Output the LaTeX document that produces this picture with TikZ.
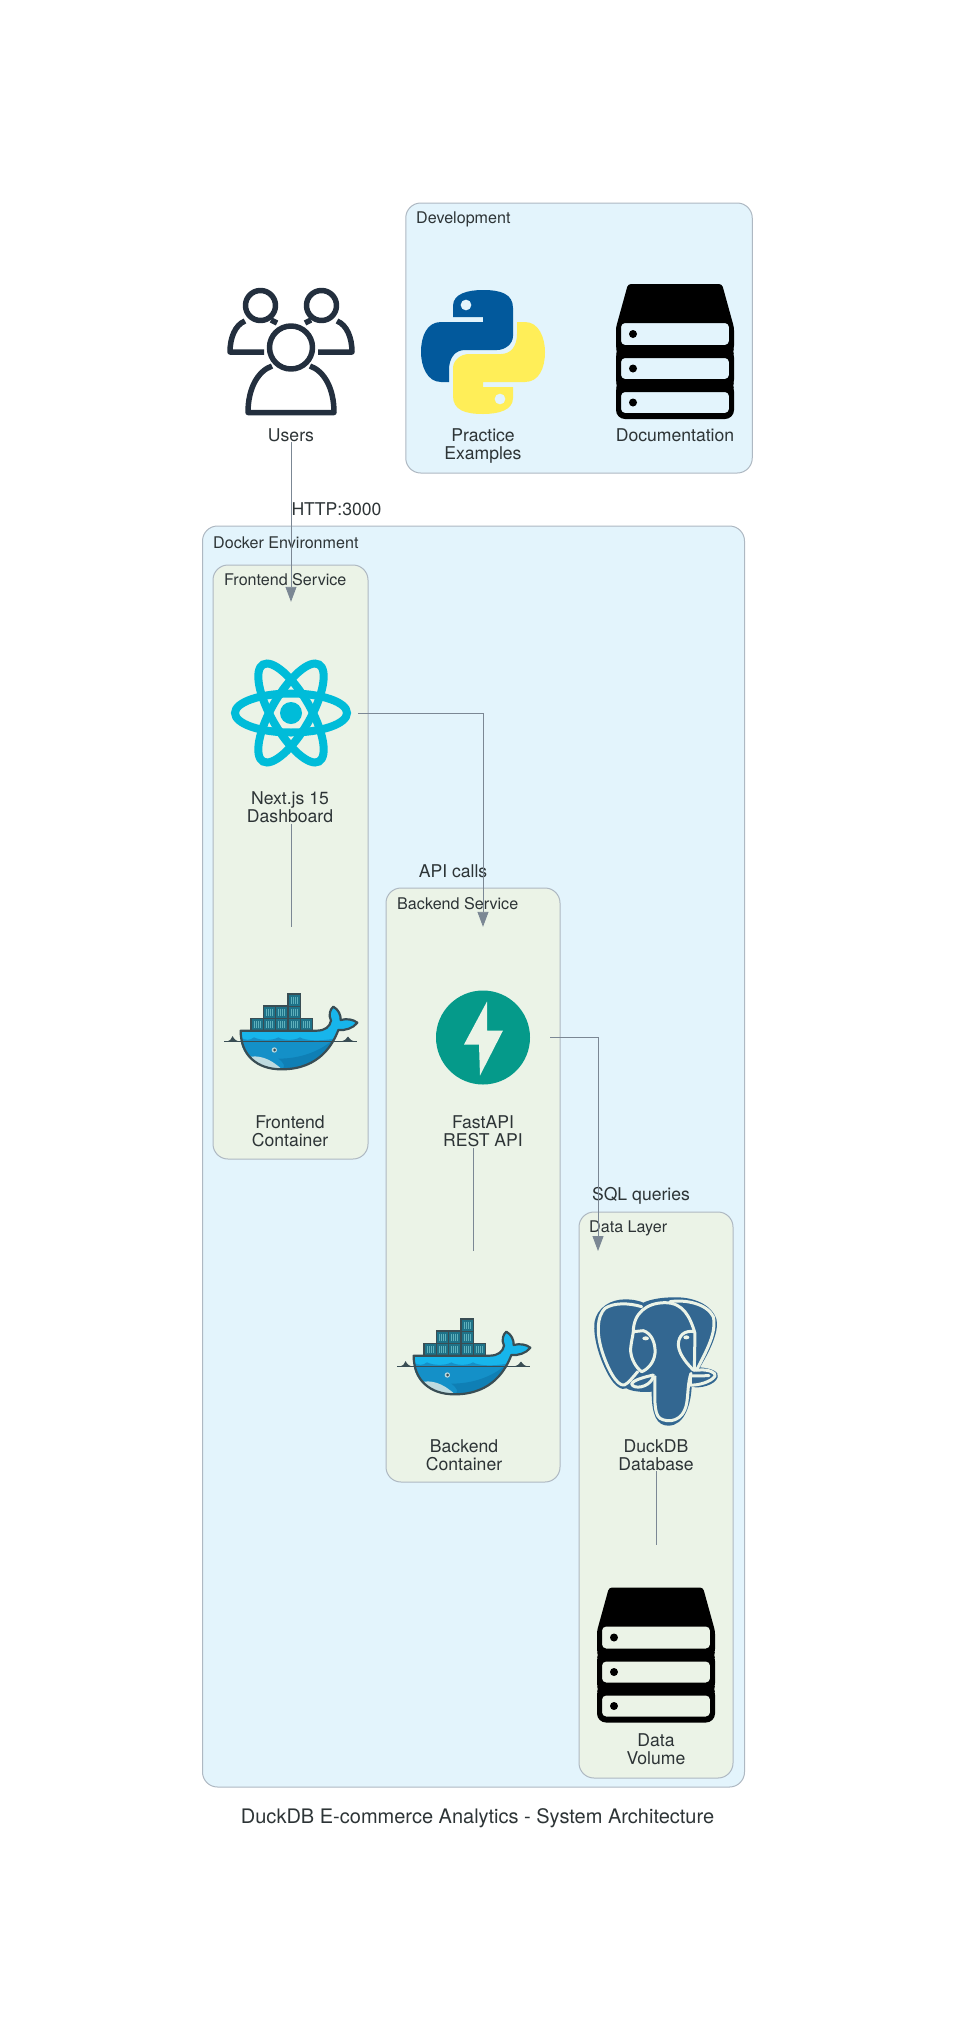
\documentclass[tikz,border=0pt]{standalone}
\usepackage{fontspec}
\setmainfont{TeX Gyre Heros}
\usetikzlibrary{arrows.meta}
\definecolor{cluster_blue}{HTML}{E3F4FC}
\definecolor{cluster_green}{HTML}{EBF3E7}
\definecolor{cluster_line}{HTML}{AEB8C2}
\definecolor{edge_grey}{HTML}{7B8794}
\definecolor{text_dark}{HTML}{2D3436}
\definecolor{users_navy}{HTML}{232F3E}
\definecolor{py_blue}{HTML}{02599C}
\definecolor{py_yellow}{HTML}{FFEE58}
\definecolor{react_cyan}{HTML}{00BCD9}
\definecolor{fast_teal}{HTML}{059A8A}
\definecolor{pg_blue}{HTML}{336791}
\definecolor{whale_line}{HTML}{394D54}
\definecolor{whale_box}{HTML}{1E7288}
\definecolor{whale_stripe}{HTML}{5FB0BC}
\definecolor{whale_light}{HTML}{17B5EB}
\definecolor{whale_mid}{HTML}{1490C8}
\definecolor{whale_deep}{HTML}{0F7FB5}
\definecolor{whale_belly}{HTML}{BFDBE0}
\tikzset{
	node_cluster/.style = {
		rectangle,
		rounded corners=15pt,
		draw=cluster_line,
		line width=1pt,
		inner sep=0pt
	},
	node_env/.style = {
		node_cluster,
		fill=cluster_blue
	},
	node_service/.style = {
		node_cluster,
		fill=cluster_green
	},
	node_icon/.style = {
		rectangle,
		inner sep=0pt,
		minimum width=134pt,
		minimum height=222pt
	},
	node_label/.style = {
		align=center,
		inner sep=0pt,
		text=text_dark,
		font=\fontsize{17.6}{18}\selectfont
	},
	node_caption/.style = {
		node_label,
		anchor=west,
		font=\fontsize{16.1}{18}\selectfont
	},
	node_title/.style = {
		node_label,
		font=\fontsize{20}{24}\selectfont
	},
	edge_plain/.style = {
		draw=edge_grey,
		line width=.9pt
	},
	edge_arrow/.style = {
		edge_plain,
		-{Triangle[length=15pt,width=11pt]}
	},
	pics/users_icon/.style = {
		code = {
			\begin{scope}[draw=users_navy,line width=5.5pt,line join=round]
				\draw (-27,0) -- (-61,0) .. controls (-61,-14) and (-56,-27) .. (-46,-31);
				\draw (27,0) -- (61,0) .. controls (61,-14) and (56,-27) .. (46,-31);
				\draw (-20,-32) -- (-14,-29);
				\draw (20,-32) -- (14,-29);
				\draw (-30.5,-46.5) circle (15);
				\draw (30.5,-46.5) circle (15);
				\draw (0,-4.5) circle (21.5);
				\draw (-19,14) .. controls (-33,19) and (-43,36) .. (-43,60.5) -- (43,60.5) .. controls (43,36) and (33,19) .. (19,14);
			\end{scope}
		}
	},
	pics/python_icon/.style = {
		code = {
			\foreach \turn/\tone in {0/py_blue,180/py_yellow} {
				\fill[rotate=\turn,\tone,even odd rule] (0,-62) .. controls (18,-62) and (30,-58) .. (30,-44) -- (30,-16) .. controls (30,-8) and (22,-2) .. (14,-2) -- (-18,-2) .. controls (-28,-2) and (-34,6) .. (-34,18) -- (-34,30) -- (-42,30) .. controls (-56,30) and (-62,14) .. (-62,0) .. controls (-62,-16) and (-56,-30) .. (-42,-30) -- (0,-30) -- (0,-35) -- (-30,-35) -- (-30,-46) .. controls (-30,-58) and (-16,-62) .. (0,-62) -- cycle (-17,-47) circle (5.5);
			}
		}
	},
	pics/server_icon/.style = {
		code = {
			\fill[black,even odd rule,rounded corners=3pt] (-47,-67.5) -- (47,-67.5) -- (59,-24) -- (59,-3) -- (57.5,0) -- (59,3) -- (59,31) -- (57.5,34) -- (59,37) [rounded corners=9pt] -- (59,67.5) -- (-59,67.5) [rounded corners=3pt] -- (-59,37) -- (-57.5,34) -- (-59,31) -- (-59,3) -- (-57.5,0) -- (-59,-3) -- (-59,-24) -- cycle
				[rounded corners=4pt] (-54,-28.5) rectangle (54,-6.5) (-54,6.5) rectangle (54,27.5) (-54,40.5) rectangle (54,61.5)
				(-42,-17.5) circle (4) (-42,17) circle (4) (-42,51) circle (4);
		}
	},
	pics/react_icon/.style = {
		code = {
			\foreach \turn in {0,60,120} {
				\draw[react_cyan,line width=8pt,rotate=\turn] (0,0) ellipse (56 and 19.5);
			}
			\fill[react_cyan] (0,0) circle (11);
		}
	},
	pics/fast_icon/.style = {
		code = {
			\fill[fast_teal] (0,0) circle (47);
			\fill[cluster_green] (4,-36) -- (-19,7) -- (-4,7) -- (-3,38) -- (20,-7) -- (4,-7) -- cycle;
		}
	},
	pics/whale_icon/.style = {
		code = {
			\begin{scope}[xshift=-71pt,yshift=57.5pt,x=.3333pt,y=-.3333pt]
				\draw[whale_line,line width=.8pt] (12,184) -- (410,184);
				\fill[whale_line] (15,185) .. controls (30,183) and (35,178) .. (38,168) .. controls (42,178) and (48,183) .. (62,185) -- cycle;
				\fill[whale_line] (358,185) .. controls (372,183) and (380,178) .. (384,170) .. controls (388,178) and (396,183) .. (408,185) -- cycle;
				\foreach \cx/\cy in {93/115,130/115,167/115,204/115,241/115,130/78,167/78,204/78,204/42} {
					\draw[whale_line,fill=whale_box,line width=1.2pt] (\cx,\cy) rectangle +(37,37);
					\foreach \sx in {9,15,21,27} {
						\draw[whale_stripe,line width=.4pt] (\cx+\sx,\cy+8) -- (\cx+\sx,\cy+29);
					}
				}
				\fill[whale_light] (62,152) -- (290,152) .. controls (315,152) and (330,140) .. (333,122) .. controls (325,105) and (330,88) .. (340,80) .. controls (355,88) and (363,105) .. (362,120) .. controls (380,115) and (400,118) .. (412,128) .. controls (400,145) and (375,152) .. (355,150) .. controls (340,190) and (300,268) .. (185,268) .. controls (110,268) and (62,225) .. (62,152) -- cycle;
				\fill[whale_mid] (62,172) .. controls (75,182) and (90,182) .. (102,172) .. controls (120,182) and (160,182) .. (175,172) .. controls (190,182) and (225,182) .. (240,172) .. controls (255,182) and (300,184) .. (343,176) .. controls (325,220) and (270,268) .. (185,268) .. controls (110,268) and (62,225) .. (62,172) -- cycle;
				\fill[whale_deep] (175,236) .. controls (240,236) and (300,215) .. (343,176) .. controls (325,220) and (270,268) .. (185,268) .. controls (200,262) and (190,246) .. (175,236) -- cycle;
				\fill[whale_belly] (92,230) .. controls (130,225) and (160,245) .. (185,267) .. controls (145,267) and (110,255) .. (92,230) -- cycle;
				\draw[whale_line,line width=2.2pt,line join=round] (62,152) -- (290,152) .. controls (315,152) and (330,140) .. (333,122) .. controls (325,105) and (330,88) .. (340,80) .. controls (355,88) and (363,105) .. (362,120) .. controls (380,115) and (400,118) .. (412,128) .. controls (400,145) and (375,152) .. (355,150) .. controls (340,190) and (300,268) .. (185,268) .. controls (110,268) and (62,225) .. (62,152) -- cycle;
				\draw[whale_line,line width=.8pt] (62,184) -- (340,184);
				\fill[whale_belly] (163,210) circle (8);
				\fill[whale_line] (164,210) circle (4.5);
			\end{scope}
		}
	},
	pics/elephant_icon/.style = {
		code = {
			\begin{scope}[xshift=-71pt,yshift=71pt,x=.3333pt,y=-.3333pt]
				\fill[pg_blue] (175,38) .. controls (195,28) and (230,22) .. (265,22) .. controls (320,20) and (380,40) .. (395,90) .. controls (402,130) and (370,190) .. (345,232) .. controls (380,235) and (404,245) .. (398,262) .. controls (390,285) and (345,297) .. (320,290) .. controls (318,340) and (300,407) .. (250,407) .. controls (215,407) and (200,375) .. (200,305) .. controls (170,308) and (135,303) .. (125,295) .. controls (110,302) and (90,290) .. (70,255) .. controls (40,200) and (25,140) .. (28,100) .. controls (35,50) and (80,28) .. (120,28) .. controls (145,28) and (165,33) .. (175,38) -- cycle;
				\begin{scope}[draw=cluster_green,line width=3pt,line cap=round,line join=round]
					\draw (170,50) .. controls (130,38) and (85,38) .. (60,55) .. controls (35,80) and (35,130) .. (50,180) .. controls (65,230) and (95,290) .. (118,285) .. controls (130,280) and (145,260) .. (158,245);
					\draw (328,240) -- (330,130) .. controls (315,80) and (295,38) .. (240,38) .. controls (185,38) and (145,70) .. (145,125);
					\draw (145,125) -- (175,122) .. controls (200,130) and (212,160) .. (210,190) .. controls (207,220) and (185,240) .. (170,245) .. controls (155,235) and (135,205) .. (137,175) .. controls (138,160) and (143,140) .. (145,125);
					\draw (210,260) .. controls (210,320) and (205,370) .. (225,385) .. controls (250,400) and (295,395) .. (305,340) .. controls (310,310) and (308,280) .. (318,250);
					\draw (328,125) .. controls (300,120) and (280,135) .. (280,165) .. controls (282,195) and (310,225) .. (325,240);
					\draw (255,35) .. controls (300,28) and (365,40) .. (385,80) .. controls (395,130) and (365,180) .. (335,240);
					\draw (325,240) -- (345,240) .. controls (370,238) and (395,248) .. (390,258) .. controls (380,275) and (340,287) .. (316,285) -- (316,258) -- (372,257);
					\draw (205,255) .. controls (175,262) and (145,270) .. (140,282) .. controls (145,298) and (190,295) .. (205,262);
				\end{scope}
				\fill[cluster_green] (182,145) ellipse (10 and 6);
				\fill[cluster_green] (304,142) ellipse (9 and 6);
			\end{scope}
		}
	},
}
\begin{document}
\begin{tikzpicture}[x=1pt,y=-1pt]
\useasboundingbox (0,0) rectangle (955,2021);
\node (development) [node_env,minimum width=346.5pt,minimum height=270pt] at (579,338) {};
\node (docker_env) [node_env,minimum width=542pt,minimum height=1261pt] at (473.5,1156.5) {};
\node (frontend) [node_service,minimum width=155pt,minimum height=594pt] at (290.5,862) {};
\node (backend) [node_service,minimum width=174pt,minimum height=594pt] at (473,1185) {};
\node (data_layer) [node_service,minimum width=154pt,minimum height=566pt] at (656,1495) {};

\node (development_text) [node_caption] at (416,219) {Development};
\node (docker_text) [node_caption] at (213,542.5) {Docker Environment};
\node (frontend_text) [node_caption] at (224,580) {Frontend Service};
\node (backend_text) [node_caption] at (397,904) {Backend Service};
\node (data_text) [node_caption] at (589,1228) {Data Layer};

\node (users) [node_icon,minimum height=180pt] at (291,352) {};
\node (python) [node_icon,minimum height=180pt] at (483,352) {};
\node (docs) [node_icon,minimum height=180pt] at (675,351.5) {};
\node (react) [node_icon] at (291,713) {};
\node (front_whale) [node_icon,minimum height=221pt] at (291,1037.5) {};
\node (fastapi) [node_icon,minimum height=221pt] at (483,1037.5) {};
\node (back_whale) [node_icon,minimum height=223pt] at (464,1362.5) {};
\node (duckdb) [node_icon,minimum height=220pt] at (656,1361) {};
\node (volume) [node_icon,minimum height=220pt] at (656,1655) {};

\pic at (users.center) {users_icon};
\pic at (python.center) {python_icon};
\pic at (docs.center) {server_icon};
\pic at (react.center) {react_icon};
\pic at (front_whale.center) {whale_icon};
\pic at (fastapi.center) {fast_icon};
\pic at (back_whale.center) {whale_icon};
\pic at (duckdb.center) {elephant_icon};
\pic at (volume.center) {server_icon};

\node (users_text) [node_label] at (291,435) {Users};
\node (python_text) [node_label] at (483,446) {Practice\\Examples};
\node (docs_text) [node_label] at (675,435) {Documentation};
\node (react_text) [node_label] at (290,807) {Next.js 15\\Dashboard};
\node (front_whale_text) [node_label] at (290,1131) {Frontend\\Container};
\node (fastapi_text) [node_label] at (483,1131) {FastAPI\\REST API};
\node (back_whale_text) [node_label] at (464,1455) {Backend\\Container};
\node (duckdb_text) [node_label] at (656,1455) {DuckDB\\Database};
\node (volume_text) [node_label] at (656,1749) {Data\\Volume};

\node (http_text) [node_label] at (336.5,509) {HTTP:3000};
\node (api_text) [node_label] at (453,871) {API calls};
\node (sql_text) [node_label] at (641,1196) {SQL queries};
\node (title) [node_title] at (477.5,1818) {DuckDB E-commerce Analytics - System Architecture};

\coordinate (duckdb_in) at (598,1251);
\draw[edge_arrow] (users.south) -- (react.north);
\draw[edge_arrow] (react.east) -| (fastapi.north);
\draw[edge_arrow] (fastapi.east) -| (duckdb_in);
\draw[edge_plain] (react.south) -- (front_whale.north);
\draw[edge_plain] (fastapi.south -| backend.north) -- (back_whale.north -| backend.north);
\draw[edge_plain] (duckdb.south) -- (volume.north);
\end{tikzpicture}
\end{document}
